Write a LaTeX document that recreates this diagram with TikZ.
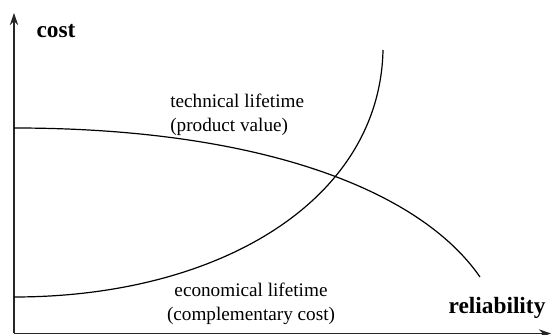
\documentclass[tikz,border=0pt]{standalone}
\usepackage{fontspec}
\setmainfont{Liberation Serif}
\usetikzlibrary{arrows.meta,positioning}
\tikzset{
  axarr/.style={-{Stealth[length=3.2mm,width=2.2mm]}, black!85, line width=0.8pt},
  crv/.style={black, line width=0.9pt},
  axlbl/.style={font=\fontsize{17.5}{20}\selectfont\bfseries, inner sep=0pt},
  crvlbl/.style={font=\fontsize{14.4}{18}\selectfont, inner sep=0pt},
}
\begin{document}
\begin{tikzpicture}[x=0.75pt,y=0.75pt]
  \useasboundingbox (0,0) rectangle (551,335);
  % axes
  \coordinate (orig) at (14,1.5);
  \coordinate (ytop) at (14,322);
  \coordinate (xend) at (551,1.5);
  \draw[axarr] (orig) -- (ytop);
  \draw[axarr] (orig) -- (xend);
  \node[axlbl] (costlbl) at (56,304) {cost};
  \node[axlbl] (rellbl) at (497,27) {reliability};
  % technical lifetime
  \coordinate (tstart) at (14,207);
  \coordinate (tend) at (480,58);
  \draw[crv] (tstart) .. controls (260,207) and (420,145) .. (tend);
  % economical lifetime
  \coordinate (estart) at (14,38);
  \coordinate (eend) at (383,285);
  \draw[crv] (estart) .. controls (220,38) and (380,135) .. (eend);
  \node[crvlbl, align=left, anchor=north west] (techlbl) at (170,241) {technical lifetime\\(product value)};
  \node[crvlbl, align=center, anchor=north] (econlbl) at (251,52) {economical lifetime\\(complementary cost)};
\end{tikzpicture}
\end{document}
